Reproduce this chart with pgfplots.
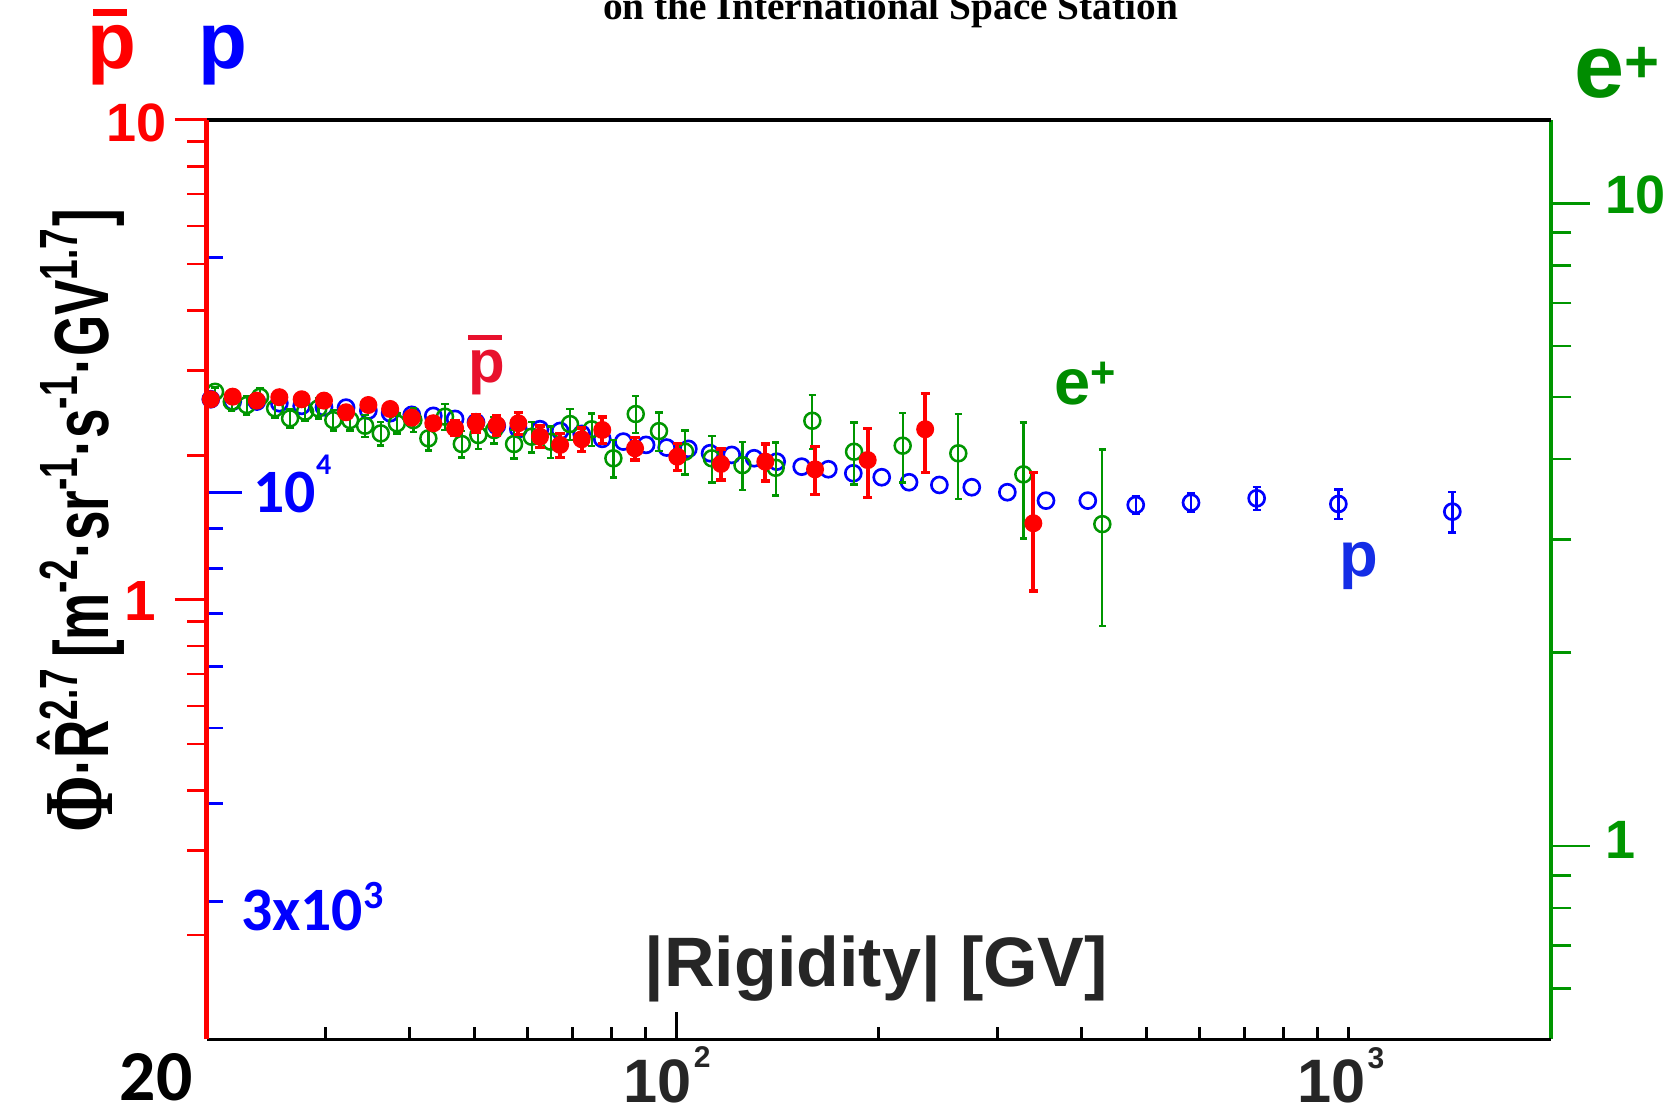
\documentclass[border=0pt]{standalone}
\usepackage{pgfplots}
\pgfplotsset{compat=1.18}
\usepackage{pgfplotstable}
\usepackage{graphicx}
\usepackage{fontspec}
\setmainfont{Liberation Sans}
\newfontfamily\lserif{Liberation Serif}
\newfontfamily\carlito{Carlito}
\newcommand\fs[1]{\fontsize{#1}{#1}\selectfont}
\definecolor{pblue}{RGB}{0,0,255}
\definecolor{pgreen}{RGB}{0,150,0}
\definecolor{pred}{RGB}{255,0,0}
\definecolor{crim}{RGB}{232,17,45}
\definecolor{lblue}{RGB}{20,45,230}
\definecolor{dgray}{RGB}{38,38,38}
\definecolor{egreen}{RGB}{0,140,0}

\pgfplotstableread{
x y
20.28 13166
21.86 13075
23.74 13075
25.65 13012
27.69 12910
29.89 12860
32.24 12845
34.80 12734
37.50 12635
40.38 12574
43.47 12537
46.84 12425
50.32 12303
54.03 12171
58.18 12054
62.66 12054
67.13 11993
72.28 11889
77.57 11716
83.37 11622
90.12 11510
96.71 11420
104.17 11376
112.22 11231
120.86 11175
130.49 11066
140.99 10955
153.61 10795
168.28 10713
183.34 10587
202.06 10464
221.9 10311
246.2 10229
275.1 10160
310.8 10012
354.8 9768
409.4 9768
}\protondata

\pgfplotstableread{
x y e
482.5 9645 240
583.1 9710 265
730.3 9835 330
966.1 9672 420
1427.6 9456 566
}\protonerr

\pgfplotstableread{
x y e
20.58 5.090 0.08
21.79 4.911 0.15
22.94 4.854 0.16
24.01 5.000 0.149
25.28 4.797 0.158
26.61 4.628 0.158
28.01 4.739 0.156
29.32 4.797 0.172
30.86 4.599 0.170
32.69 4.599 0.165
34.41 4.507 0.175
36.31 4.385 0.184
38.37 4.546 0.163
40.60 4.599 0.193
42.74 4.308 0.181
45.25 4.655 0.214
47.93 4.221 0.201
50.72 4.359 0.214
53.53 4.438 0.212
57.33 4.221 0.215
60.90 4.333 0.238
65.02 4.256 0.241
69.44 4.534 0.255
74.81 4.450 0.260
80.57 4.010 0.269
86.99 4.700 0.312
94.20 4.421 0.304
103.0 4.106 0.324
112.9 4.010 0.335
125.4 3.914 0.337
140.5 3.877 0.368
159.3 4.588 0.444
183.8 4.106 0.452
217.1 4.196 0.519
262.7 4.083 0.619
328.3 3.786 0.775
430.3 3.168 0.97
}\positrondata

\pgfplotstableread{
x y e
20.28 2.614 0.04
21.86 2.647 0.04
23.74 2.597 0.04
25.65 2.640 0.04
27.69 2.614 0.04
29.89 2.597 0.04
32.24 2.456 0.06
34.80 2.543 0.06
37.50 2.495 0.06
40.38 2.393 0.07
43.47 2.330 0.07
46.84 2.275 0.08
50.32 2.330 0.10
54.03 2.311 0.11
58.18 2.330 0.12
62.66 2.185 0.113
67.13 2.100 0.121
72.28 2.158 0.121
77.57 2.256 0.143
86.78 2.066 0.112
100.3 1.985 0.128
116.5 1.917 0.142
135.6 1.938 0.172
160.8 1.868 0.215
192.6 1.953 0.322
234.5 2.264 0.425
339.7 1.442 0.40
}\antiprotondata

\begin{document}
\begin{tikzpicture}
% ---- proton axis (blue, left inner ticks)
\begin{axis}[width=403.2pt, height=275.91pt, scale only axis,
  xmode=log, ymode=log, xmin=20, xmax=2000,
  at={(0pt,0pt)}, anchor=south west, clip=false,
  ymin=2000, ymax=30000,
  axis x line=none, axis y line*=left,
  y axis line style={draw=none},
  ytick={10000}, minor ytick={3000,4000,5000,6000,7000,8000,9000,20000},
  yticklabels={},
  tick align=inside, major tick length=10.7pt, minor tick length=4.8pt,
  tick style={pblue, line width=0.85pt}]
\addplot[only marks, mark=o, mark size=2.4pt, color=pblue, mark options={line width=0.8pt}]
  table[x=x, y=y] {\protondata};
\addplot[only marks, mark=o, mark size=2.4pt, color=pblue, mark options={line width=0.8pt},
  error bars/.cd, y dir=both, y explicit,
  error bar style={line width=0.75pt},
  error mark options={rotate=90, line width=0.75pt, mark size=1.25pt}]
  table[x=x, y=y, y error=e] {\protonerr};
\end{axis}
% ---- positron axis (green, right)
\begin{axis}[width=403.2pt, height=275.91pt, scale only axis,
  xmode=log, ymode=log, xmin=20, xmax=2000,
  at={(0pt,0pt)}, anchor=south west, clip=false,
  ymin=0.5, ymax=13.5,
  axis x line=none, axis y line*=right,
  y axis line style={color=pgreen, line width=1.2pt},
  ytick={1,10}, minor ytick={0.6,0.7,0.8,0.9,2,3,4,5,6,7,8,9},
  yticklabels={},
  tick align=outside, major tick length=11.7pt, minor tick length=6.2pt,
  tick style={pgreen, line width=0.75pt}]
\addplot[only marks, mark=o, mark size=2.4pt, color=pgreen, mark options={line width=0.75pt},
  error bars/.cd, y dir=both, y explicit,
  error bar style={line width=0.7pt},
  error mark options={rotate=90, line width=0.75pt, mark size=1.1pt}]
  table[x=x, y=y, y error=e] {\positrondata};
\end{axis}
% ---- frame axis (x ticks)
\begin{axis}[width=403.2pt, height=275.91pt, scale only axis,
  xmode=log, ymode=log, xmin=20, xmax=2000,
  at={(0pt,0pt)}, anchor=south west, clip=false,
  ymin=1, ymax=10, name=fr,
  axis y line=none, axis x line*=bottom,
  x axis line style={black, line width=1pt},
  xtick={100}, minor xtick={30,40,50,60,70,80,90,200,300,400,500,600,700,800,900,1000},
  xticklabels={},
  tick align=inside, major tick length=8.2pt, minor tick length=3.6pt,
  tick style={black, line width=0.9pt}]
\end{axis}
\draw[line width=1.2pt] (fr.north west) -- (fr.north east);
% ---- antiproton axis (red, left outer ticks)
\begin{axis}[width=403.2pt, height=275.91pt, scale only axis,
  xmode=log, ymode=log, xmin=20, xmax=2000,
  at={(0pt,0pt)}, anchor=south west, clip=false,
  ymin=0.1213, ymax=10,
  axis x line=none, axis y line*=left,
  y axis line style={color=pred, line width=1.5pt},
  ytick={1,10}, minor ytick={0.2,0.3,0.4,0.5,0.6,0.7,0.8,0.9,2,3,4,5,6,7,8,9},
  yticklabels={},
  tick align=outside, major tick length=9.6pt, minor tick length=5.9pt,
  tick style={pred, line width=0.85pt}]
\addplot[only marks, mark=*, mark size=2.5pt, color=pred, mark options={draw=pred, fill=pred},
  error bars/.cd, y dir=both, y explicit,
  error bar style={line width=1.2pt},
  error mark options={rotate=90, line width=1pt, mark size=1.4pt}]
  table[x=x, y=y, y error=e] {\antiprotondata};
\end{axis}

% ---- text
\node[anchor=base, inner sep=0, text=black] at (205.2pt,305.8pt)
  {\lserif\bfseries\fs{11.8}on the International Space Station};
% top species labels
\node[anchor=base, inner sep=0, text=pred] at (-28.3pt,291.1pt) {\bfseries\fs{24}p};
\fill[pred] (-34.1pt,307.0pt) rectangle (-23.9pt,309.1pt);
\node[anchor=base, inner sep=0, text=pblue] at (5.0pt,291.1pt) {\bfseries\fs{24}p};
\node[anchor=base west, inner sep=0, text=egreen] at (410.2pt,282.4pt)
  {\bfseries\fs{27}e\raisebox{4.5pt}{\fs{18}+}};
% red tick labels
\node[anchor=east, inner sep=0, text=pred] at (-11.9pt,274.9pt) {\bfseries\fs{16.2}10};
\node[anchor=east, inner sep=0, text=pred] at (-15.1pt,131.5pt) {\bfseries\fs{17}1};
% blue tick labels
\node[anchor=base west, inner sep=0, text=pblue] at (13.9pt,158.0pt)
  {\carlito\bfseries\fs{18.5}10\raisebox{11.3pt}{\fs{9}4}};
\node[anchor=base west, inner sep=0, text=pblue] at (10.1pt,32.7pt)
  {\carlito\bfseries\fs{18.5}3x10\raisebox{6.5pt}{\fs{12}3}};
% green tick labels
\node[anchor=west, inner sep=0, text=pgreen] at (419.5pt,253.2pt) {\bfseries\fs{16.2}10};
\node[anchor=west, inner sep=0, text=pgreen] at (419.5pt,59.9pt) {\bfseries\fs{16.2}1};
% x tick labels
\node[anchor=center, inner sep=0, text=black] at (-15.2pt,-11.5pt) {\carlito\bfseries\fs{21.5}20};
\node[anchor=base west, inner sep=0, text=dgray] at (124.9pt,-19.1pt)
  {\bfseries\fs{18.4}10\hspace{0.6pt}\raisebox{10.5pt}{\fs{9}2}};
\node[anchor=base west, inner sep=0, text=dgray] at (327.0pt,-19.1pt)
  {\bfseries\fs{18.4}10\hspace{0.6pt}\raisebox{10.4pt}{\fs{9}3}};
% axis titles
\node[anchor=base, inner sep=0, text=dgray] at (200.9pt,15.8pt)
  {\bfseries\fs{21}|Rigidity| [GV]};
\node[rotate=90, anchor=base, inner sep=0, text=black] at (-29.6pt,155.5pt)
  {\scalebox{1}[1.45]{\bfseries\fs{15.9}\raisebox{-1pt}{\lserif\fs{20.5}Φ}·\^{R}\textsuperscript{2.7}\,[m\textsuperscript{-2}·sr\textsuperscript{-1}·s\textsuperscript{-1}·GV\textsuperscript{1.7}]}};
% inner species labels
\node[anchor=base, inner sep=0, text=crim] at (83.9pt,196.9pt) {\bfseries\fs{18}p};
\fill[crim] (78.4pt,209.8pt) rectangle (88.6pt,211.3pt);
\node[anchor=base west, inner sep=0, text=egreen] at (254.0pt,190.3pt)
  {\bfseries\fs{19.5}e\raisebox{5.2pt}{\fs{13}+}};
\node[anchor=base, inner sep=0, text=lblue] at (345.7pt,138.7pt) {\bfseries\fs{19}p};

\pgfresetboundingbox
\useasboundingbox (-62.01pt,-19.41pt) rectangle (441.09pt,311.79pt);
\end{tikzpicture}
\end{document}
